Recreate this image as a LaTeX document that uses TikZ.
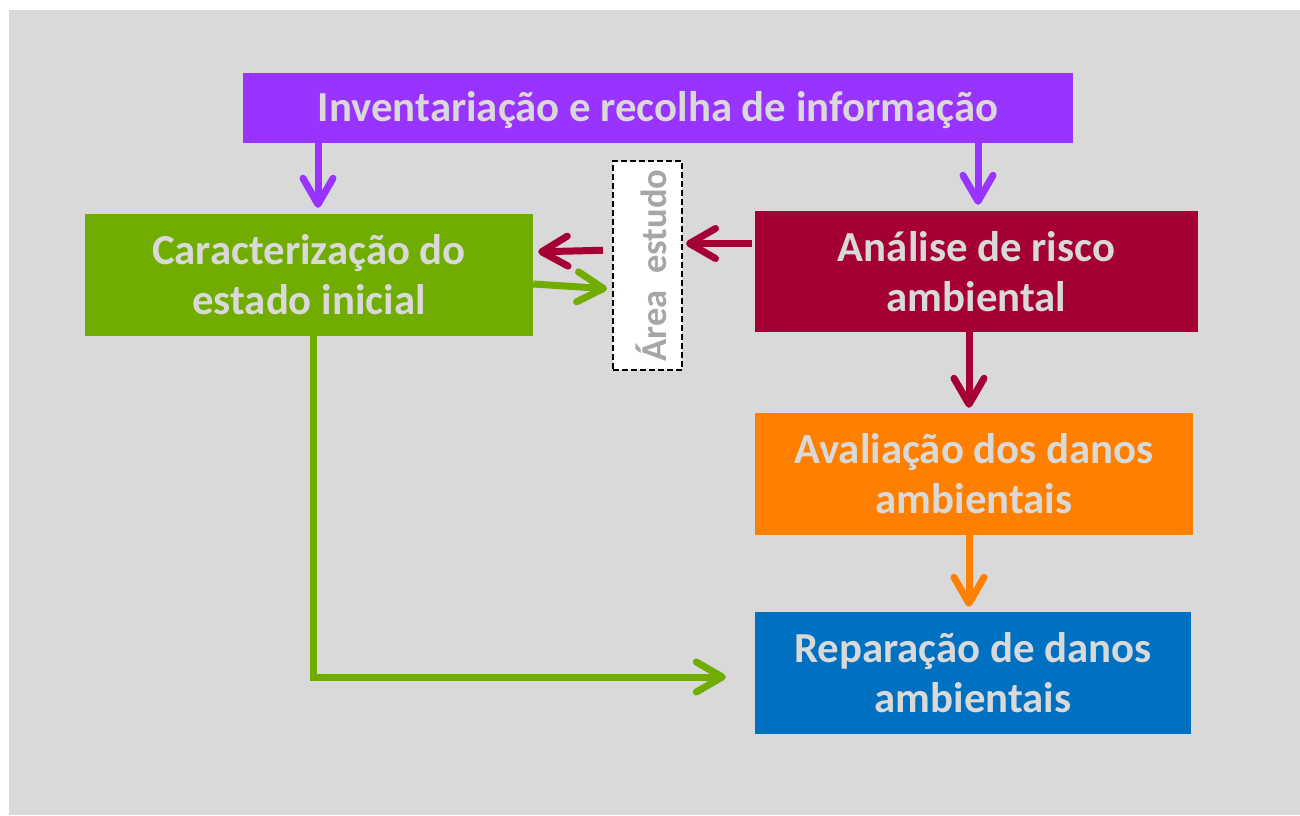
\documentclass[tikz,border=0pt]{standalone}
\usepackage{fontspec}
\setmainfont{Carlito}
\usetikzlibrary{arrows.meta}
\definecolor{bgc}{HTML}{D9D9D9}
\definecolor{txc}{HTML}{D9D9D9}
\definecolor{purp}{HTML}{9933FF}
\definecolor{grn}{HTML}{70AD00}
\definecolor{crim}{HTML}{A50034}
\definecolor{orng}{HTML}{FF8000}
\definecolor{blu}{HTML}{0070C0}
\definecolor{areatx}{HTML}{A6A6A6}
\tikzset{
  box/.style={rectangle, inner sep=0pt, align=center, text=txc,
    font=\fontsize{42.8}{50}\selectfont\bfseries},
  conn/.style={line width=7pt, -{Straight Barb[length=26pt,width=30pt,round]}},
  areabox/.style={rectangle, draw=black, dash pattern=on 6pt off 3pt, line width=2pt, fill=white, inner sep=0pt},
}
\begin{document}
\begin{tikzpicture}[x=1pt,y=-1pt]
\useasboundingbox (0,0) rectangle (1300,815);
\fill[bgc] (9,10) rectangle (1300,815);

\node[box, fill=purp, minimum width=830pt, minimum height=70pt, text depth=4pt] (inv) at (658,108) {Inventariação e recolha de informação};
\node[box, fill=grn, minimum width=448pt, minimum height=122pt] (car) at (309,275) {Caracterização do\\estado inicial};
\node[box, fill=crim, minimum width=443pt, minimum height=121pt] (ana) at (976.5,271.5) {Análise de risco\\ambiental};
\node[box, fill=orng, minimum width=438pt, minimum height=122pt] (ava) at (974,474) {Avaliação dos danos\\ambientais};
\node[box, fill=blu, minimum width=436pt, minimum height=122pt] (rep) at (973,673) {Reparação de danos\\ambientais};
\node[areabox, minimum width=69pt, minimum height=209pt] (area) at (647.5,265.5) {};
\node[rotate=90, text=areatx, font=\fontsize{36.5}{40}\selectfont\bfseries, inner sep=0pt] (areatxt) at (651,265.5) {Área\ \ estudo};

\draw[conn, purp, shorten >=6pt] ([xshift=9pt]car.north |- inv.south) -- ([xshift=9pt]car.north);
\draw[conn, purp, shorten >=6pt] ([xshift=1.5pt]ana.north |- inv.south) -- ([xshift=1.5pt]ana.north);
\draw[conn, crim, shorten <=3pt, shorten >=3pt] ([yshift=28pt]ana.west) -- ([yshift=28pt]ana.west -| area.east);
\draw[conn, crim, shorten <=9pt, shorten >=5pt] ([yshift=15.5pt]area.west) -- ([yshift=23pt]car.east);
\draw[conn, grn, shorten >=5pt] ([yshift=-9pt]car.east) -- ([yshift=-23.5pt]area.west);
\draw[conn, grn, shorten >=29pt] ([xshift=4pt]car.south) |- ([yshift=-4pt]rep.west);
\draw[conn, crim, shorten >=5pt] ([xshift=-7.5pt]ana.south) -- ([xshift=-5pt]ava.north);
\draw[conn, orng, shorten >=5pt] ([xshift=-5pt]ava.south) -- ([xshift=-4pt]rep.north);
\end{tikzpicture}
\end{document}
